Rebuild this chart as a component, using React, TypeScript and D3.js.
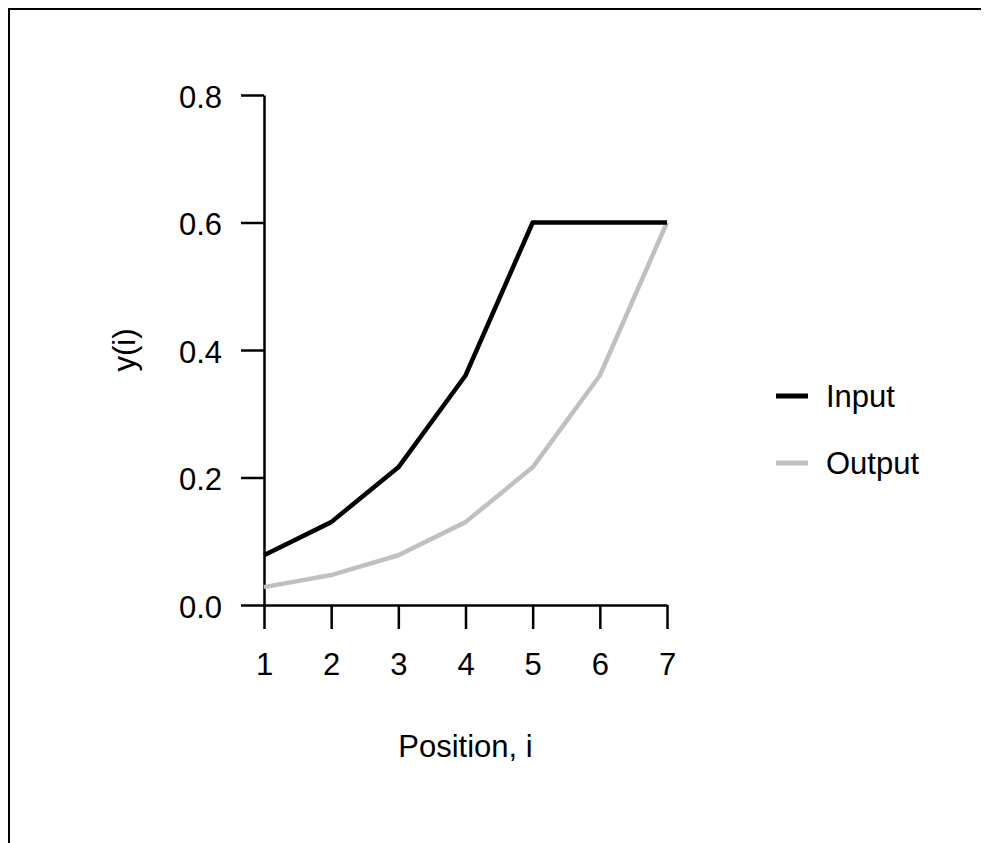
import React, { useEffect, useRef } from 'react';
import * as d3 from 'd3';

const positions = [1, 2, 3, 4, 5, 6, 7];
const inputValues = [0.078, 0.13, 0.216, 0.36, 0.6, 0.6, 0.6];
const outputValues = [0.028, 0.047, 0.078, 0.13, 0.216, 0.36, 0.6];
const yTicks = [0, 0.2, 0.4, 0.6, 0.8];
const seriesNames = ['Input', 'Output'];
const seriesColors = ['#000000', '#c0c0c0'];

export default function App() {
  const svgRef = useRef<SVGSVGElement>(null);

  useEffect(() => {
    if (!svgRef.current) return;
    document.documentElement.style.overflow = 'hidden';
    const svg = d3.select(svgRef.current);
    svg.selectAll('*').remove();

    const font = 'Liberation Sans, Arial, sans-serif';
    const fontSize = '31px';

    // frame: the left and top edges are all that show inside the page
    svg.append('path')
      .attr('d', 'M1,900V1H1100')
      .style('fill', 'none')
      .style('stroke', '#000')
      .style('stroke-width', 2);

    const x = d3.scaleLinear().domain([1, 7]).range([256, 659]);
    const y = d3.scaleLinear().domain([0, 0.8]).range([597, 87]);

    // y axis
    const yAxis = svg.append('g')
      .attr('transform', `translate(${x(1)},0)`)
      .call(d3.axisLeft(y).tickValues(yTicks).tickFormat(d3.format('.1f')).tickSize(23).tickSizeOuter(0).tickPadding(19));
    yAxis.select('.domain').style('stroke-width', 2.5);
    yAxis.selectAll('.tick line').style('stroke-width', 2.5);
    yAxis.selectAll('text')
      .attr('dy', '0.4em')
      .style('font-family', font)
      .style('font-size', fontSize)
      .style('fill', '#000');

    // x axis
    const xAxis = svg.append('g')
      .attr('transform', `translate(0,${y(0)})`)
      .call(d3.axisBottom(x).tickValues(positions).tickFormat(d3.format('d')).tickSize(24).tickSizeOuter(0).tickPadding(24));
    xAxis.select('.domain').style('stroke-width', 2.5);
    xAxis.selectAll('.tick line').style('stroke-width', 2.5);
    xAxis.selectAll('text')
      .style('font-family', font)
      .style('font-size', fontSize)
      .style('fill', '#000');

    // lines
    const line = d3.line<number>()
      .x((_, i) => x(positions[i]))
      .y(d => y(d));

    [outputValues, inputValues].forEach((vals, k) => {
      const idx = k === 0 ? 1 : 0;
      svg.append('path')
        .datum(vals)
        .attr('d', line)
        .style('fill', 'none')
        .style('stroke', seriesColors[idx])
        .style('stroke-width', 4.5)
        .style('stroke-linejoin', 'round');
    });

    // axis titles
    svg.append('text')
      .attr('x', (x(1) + x(7)) / 2)
      .attr('y', 749)
      .attr('text-anchor', 'middle')
      .style('font-family', font)
      .style('font-size', fontSize)
      .text('Position, i');

    svg.append('text')
      .attr('transform', `translate(127,${(y(0) + y(0.8)) / 2}) rotate(-90)`)
      .attr('text-anchor', 'middle')
      .style('font-family', font)
      .style('font-size', fontSize)
      .text('y(i)');

    // legend
    const legend = svg.append('g').attr('transform', 'translate(768,388)');
    seriesNames.forEach((name, i) => {
      const g = legend.append('g').attr('transform', `translate(0,${i * 67})`);
      g.append('line')
        .attr('x1', 0)
        .attr('x2', 32)
        .attr('y1', 0)
        .attr('y2', 0)
        .style('stroke', seriesColors[i])
        .style('stroke-width', 5);
      g.append('text')
        .attr('x', 50)
        .attr('y', 11)
        .style('font-family', font)
        .style('font-size', fontSize)
        .text(name);
    });
  }, []);

  return <svg ref={svgRef} width={981} height={835} style={{ display: 'block' }} />;
}
